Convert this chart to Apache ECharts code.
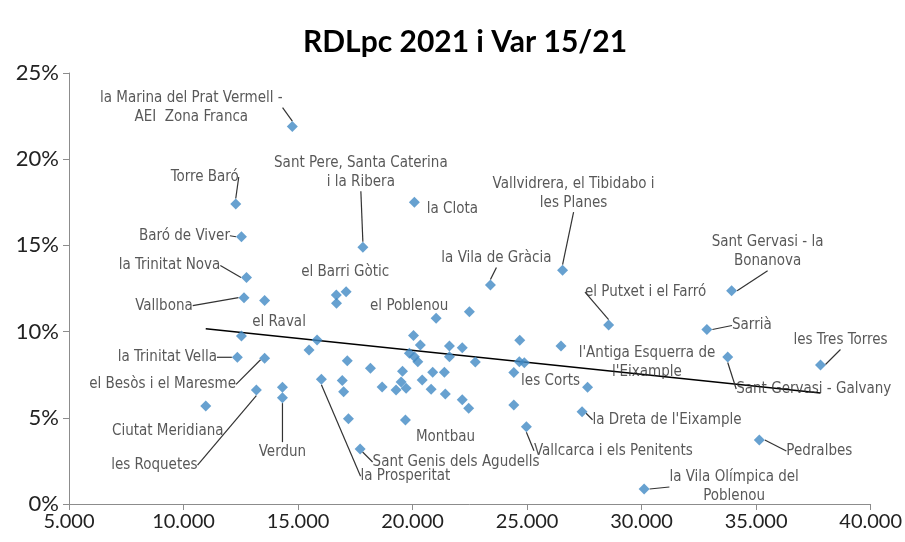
<!DOCTYPE html>
<html>
<head>
<meta charset="utf-8">
<script src="https://cdn.jsdelivr.net/npm/echarts@6/dist/echarts.min.js"></script>
<style>
  html, body { margin: 0; padding: 0; background: #fff; }
  #chart { width: 905px; height: 542px; }
</style>
</head>
<body>
<div id="chart"></div>
<script>
// neighbourhoods: name ('' = no label), income per capita 2021, growth 15/21 (%)
const names = [
  'la Marina del Prat Vermell -\nAEI  Zona Franca', 'Torre Baró', 'Baró de Viver', 'la Trinitat Nova', 'Vallbona',
  '', '', 'la Trinitat Vella', 'el Besòs i el Maresme', 'les Roquetes',
  '', 'Verdun', 'Ciutat Meridiana', '', 'el Barri Gòtic',
  '', 'Sant Pere, Santa Caterina\ni la Ribera', 'la Clota', 'el Raval', '',
  '', '', 'la Prosperitat', '', '',
  '', 'Sant Genis dels Agudells', '', '', '',
  '', '', 'Montbau', '', '',
  '', '', '', '', '',
  '', '', '', '', '',
  '', '', '', '', 'el Poblenou',
  '', 'la Vila de Gràcia', '', '', '',
  '', '', 'Vallcarca i els Penitents', "l'Antiga Esquerra de\nl'Eixample", 'Vallvidrera, el Tibidabo i\nles Planes',
  'les Corts', "la Dreta de l'Eixample", 'el Putxet i el Farró', 'Sarrià', 'Sant Gervasi - Galvany',
  'Sant Gervasi - la\nBonanova', 'les Tres Torres', 'Pedralbes', 'la Vila Olímpica del\nPoblenou'
];
const income = [
  14750, 12280, 12530, 12750, 12640,
  13540, 12530, 12350, 13540, 13180,
  14320, 14320, 10970, 16670, 17100,
  16680, 17830, 20080, 15830, 15480,
  17150, 18160, 16020, 16930, 16990,
  17200, 17710, 18670, 19280, 19500,
  19560, 19720, 19690, 20040, 20340,
  19860, 20080, 20230, 20880, 21390,
  20420, 20810, 21430, 22170, 22450,
  21610, 22170, 21610, 22740, 21030,
  22480, 23400, 24680, 24660, 24880,
  24420, 24420, 24970, 26480, 26550,
  27640, 27400, 28560, 32850, 33760,
  33930, 37810, 35140, 30110
];
const growth = [
  21.89, 17.40, 15.50, 13.14, 11.97,
  11.80, 9.74, 8.51, 8.45, 6.61,
  6.77, 6.17, 5.68, 12.12, 12.31,
  11.64, 14.89, 17.50, 9.51, 8.93,
  8.31, 7.87, 7.23, 7.16, 6.51,
  4.95, 3.19, 6.79, 6.61, 7.08,
  7.70, 6.71, 4.87, 9.77, 9.22,
  8.74, 8.54, 8.25, 7.64, 7.64,
  7.19, 6.65, 6.38, 6.05, 5.55,
  9.16, 9.07, 8.54, 8.24, 10.77,
  11.15, 12.70, 9.50, 8.25, 8.20,
  7.63, 5.74, 4.48, 9.16, 13.56,
  6.77, 5.35, 10.38, 10.12, 8.53,
  12.37, 8.06, 3.71, 0.87
];
const xTicks = [5000, 10000, 15000, 20000, 25000, 30000, 35000, 40000];
const yTicks = [0, 5, 10, 15, 20, 25];

// label offsets from the point (dx, dy) and whether a leader line is drawn
const labelPlace = {
  'la Marina del Prat Vermell -\nAEI  Zona Franca': [-101, -19, true],
  'Torre Baró': [-31, -27, true],
  'Baró de Viver': [-57, -1, true],
  'la Trinitat Nova': [-77, -12, true],
  'Vallbona': [-80, 8, true],
  'la Trinitat Vella': [-70, 0, true],
  'el Besòs i el Maresme': [-102, 26, true],
  'les Roquetes': [-102, 75, true],
  'Verdun': [0, 54, true],
  'Ciutat Meridiana': [-38, 25, false],
  'el Barri Gòtic': [-1, -20, false],
  'Sant Pere, Santa Caterina\ni la Ribera': [-2, -75, true],
  'la Clota': [38, 7, false],
  'el Raval': [-38, -18, false],
  'la Prosperitat': [84, 97, true],
  'Sant Genis dels Agudells': [96, 13, true],
  'Montbau': [40, 17, false],
  'el Poblenou': [-27, -12, false],
  'la Vila de Gràcia': [6, -27, true],
  'Vallcarca i els Penitents': [87, 24, true],
  "l'Antiga Esquerra de\nl'Eixample": [86, 17, false],
  'Vallvidrera, el Tibidabo i\nles Planes': [11, -77, true],
  'les Corts': [-37, -6, false],
  "la Dreta de l'Eixample": [85, 8, true],
  'el Putxet i el Farró': [37, -33, true],
  'Sarrià': [45, -4, true],
  'Sant Gervasi - Galvany': [86, 32, true],
  'Sant Gervasi - la\nBonanova': [36, -39, true],
  'les Tres Torres': [20, -25, true],
  'Pedralbes': [60, 11, true],
  'la Vila Olímpica del\nPoblenou': [90, -2, true]
};

// linear trend (least squares) over all points
const n = income.length;
const mx = income.reduce((a, b) => a + b, 0) / n;
const my = growth.reduce((a, b) => a + b, 0) / n;
let sxy = 0, sxx = 0;
for (let i = 0; i < n; i++) {
  sxy += (income[i] - mx) * (growth[i] - my);
  sxx += (income[i] - mx) * (income[i] - mx);
}
const slope = sxy / sxx;
const xMin = Math.min(...income), xMax = Math.max(...income);
const trend = [[xMin, my + slope * (xMin - mx)], [xMax, my + slope * (xMax - mx)]];

const points = income.map((x, i) => {
  const place = labelPlace[names[i]];
  return {
    name: names[i],
    value: [x, growth[i]],
    label: { show: !!names[i] },
    labelLine: { show: !!(place && place[2]) }
  };
});

const chart = echarts.init(document.getElementById('chart'));

const options = {
  animation: false,
  title: {
    text: 'RDLpc 2021 i Var 15/21',
    left: 298,
    top: 22,
    textStyle: { fontFamily: 'Lato, "Open Sans", sans-serif', fontWeight: 'bold', fontSize: 30, color: '#000' }
  },
  grid: { left: 69, right: 33, top: 73, bottom: 38 },
  xAxis: {
    type: 'value',
    min: xTicks[0],
    max: xTicks[xTicks.length - 1],
    interval: 5000,
    splitLine: { show: false },
    axisLine: { lineStyle: { color: '#8c8c8c' } },
    axisTick: { show: true, length: 6, lineStyle: { color: '#8c8c8c' } },
    axisLabel: {
      margin: 8,
      fontFamily: 'Lato, sans-serif',
      fontSize: 20,
      color: '#222',
      formatter: v => v.toLocaleString('de-DE')
    }
  },
  yAxis: {
    type: 'value',
    min: yTicks[0],
    max: yTicks[yTicks.length - 1],
    interval: 5,
    splitLine: { show: false },
    axisLine: { show: true, lineStyle: { color: '#8c8c8c' } },
    axisTick: { show: true, length: 6, lineStyle: { color: '#8c8c8c' } },
    axisLabel: {
      margin: 10,
      fontFamily: 'Lato, sans-serif',
      fontSize: 22,
      color: '#222',
      formatter: '{value}%'
    }
  },
  series: [
    {
      type: 'line',
      data: trend,
      symbol: 'none',
      silent: true,
      lineStyle: { color: '#000', width: 1.3 },
      z: 1
    },
    {
      type: 'scatter',
      data: points,
      symbol: 'diamond',
      symbolSize: 11,
      itemStyle: { color: '#4189c4' },
      z: 3,
      label: {
        position: 'inside',
        formatter: p => p.name,
        fontFamily: '"Liberation Sans Narrow", "Arial Narrow", "DejaVu Sans Condensed", sans-serif',
        fontSize: 15,
        lineHeight: 19,
        align: 'center',
        verticalAlign: 'middle',
        color: '#2e2e2e'
      },
      labelLine: { lineStyle: { color: '#333', width: 1.2 } },
      labelLayout: params => {
        const place = labelPlace[names[params.dataIndex]];
        if (!place) return {};
        return { dx: place[0], dy: place[1] };
      }
    }
  ]
};

chart.setOption(options);
</script>
</body>
</html>
